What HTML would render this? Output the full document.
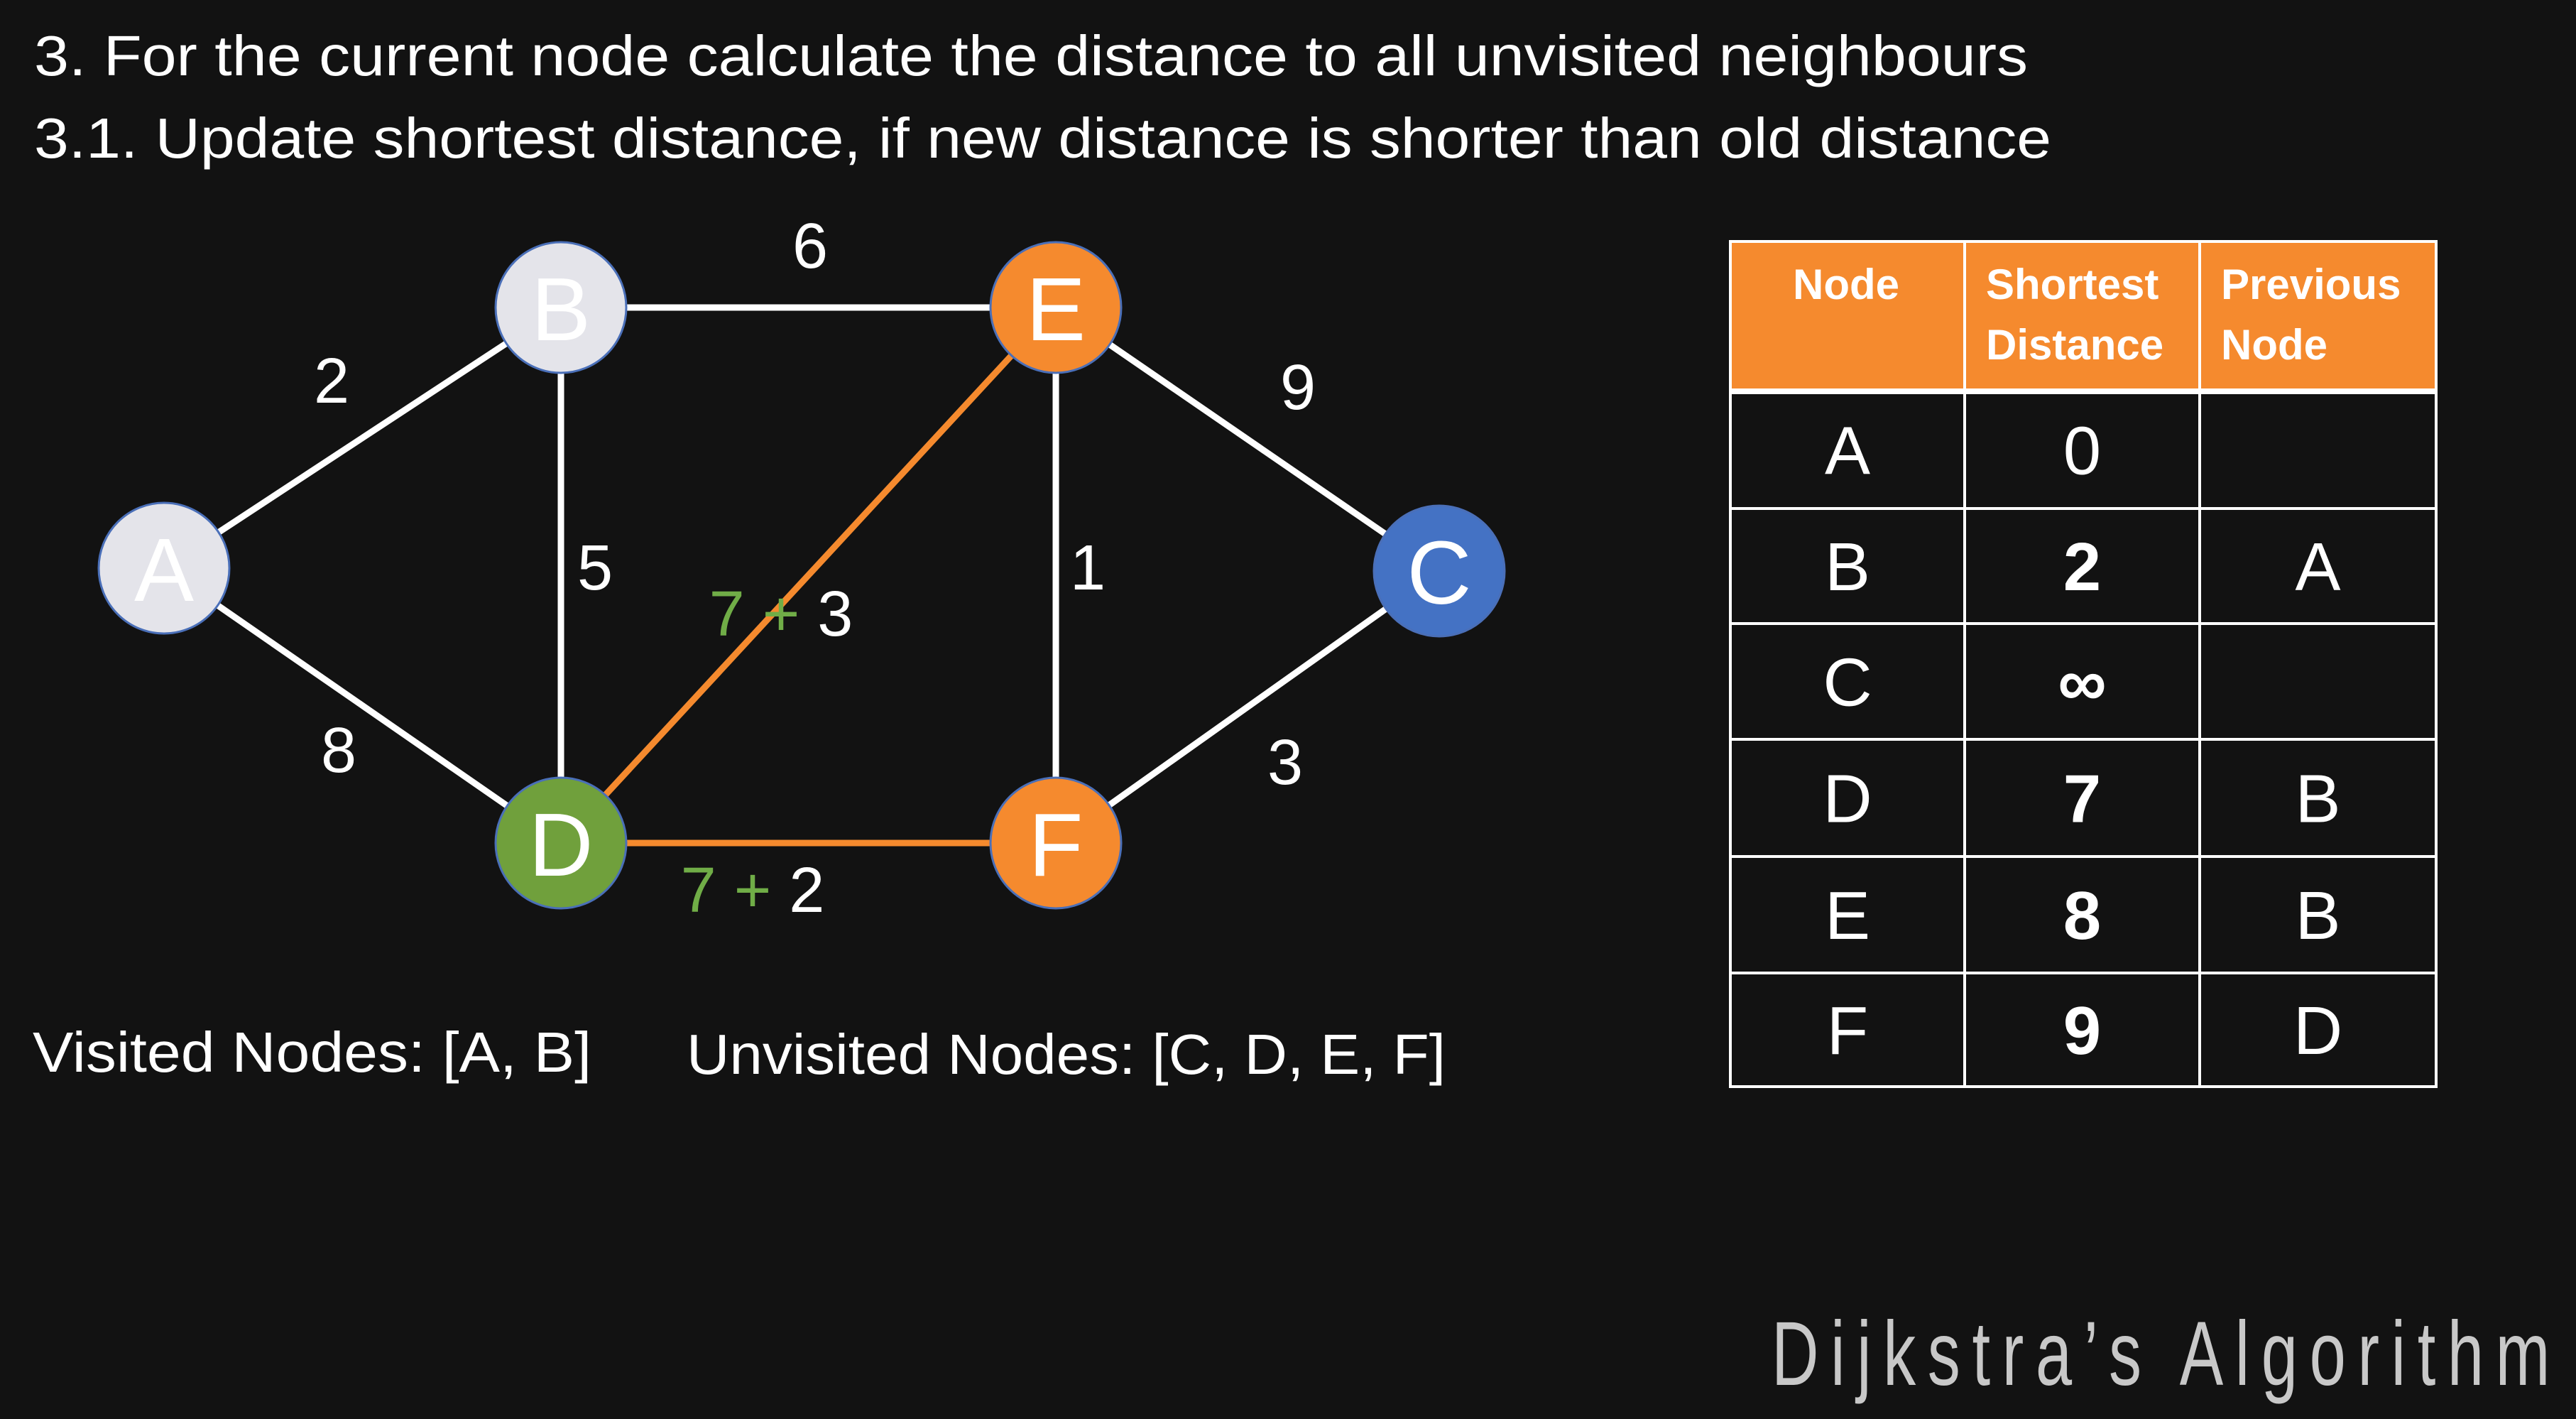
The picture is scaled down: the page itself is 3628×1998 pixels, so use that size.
<!DOCTYPE html>
<html><head><meta charset="utf-8"><style>
html,body{margin:0;padding:0;background:#121212;}
svg{display:block;}
text{font-family:"Liberation Sans",sans-serif;}
</style></head><body>
<svg id="chart" width="3628" height="1998" viewBox="0 0 3628 1998" xmlns="http://www.w3.org/2000/svg">
<rect width="3628" height="1998" fill="#121212"/>
<text x="48" y="106" font-size="80" fill="#ffffff" textLength="2808" lengthAdjust="spacingAndGlyphs">3. For the current node calculate the distance to all unvisited neighbours</text>
<text x="48" y="222" font-size="80" fill="#ffffff" textLength="2841" lengthAdjust="spacingAndGlyphs">3.1. Update shortest distance, if new distance is shorter than old distance</text>
<g id="edges"></g><g id="edgeLabels"></g><g id="nodes"></g><g id="table"></g>
<text x="46" y="1509" font-size="80" fill="#ffffff" textLength="787" lengthAdjust="spacingAndGlyphs">Visited Nodes: [A, B]</text>
<text x="967" y="1512" font-size="80" fill="#ffffff" textLength="1069" lengthAdjust="spacingAndGlyphs">Unvisited Nodes: [C, D, E, F]</text>
<text transform="translate(2495,1950) scale(0.72,1)" x="0" y="0" font-size="128" letter-spacing="23" fill="#c8c8c8">Dijkstra’s Algorithm</text>
</svg>
<script>
const nodeNames=["A","B","C","D","E","F"];
const nodeX=[231,790,2027,790,1487,1487];
const nodeY=[800,433,804,1187,433,1187];
const nodeFill=["#e4e4ea","#e4e4ea","#4472c4","#70a03c","#f58a2e","#f58a2e"];
const edgeFrom=["A","A","B","B","D","D","E","E","F"];
const edgeTo=["B","D","E","D","E","F","F","C","C"];
const edgeWeights=["2","8","6","5","3","2","1","9","3"];
const edgeColor=["#fff","#fff","#fff","#fff","#f58a2e","#f58a2e","#fff","#fff","#fff"];
const labelX=[467,477,1141,838,1100,1060,1532,1828,1810];
const labelY=[567,1087,377,830,895,1284,830,576,1104];
const edgeAddend=["","","","","7","7","","",""];
const tableHeaders=["Node","Shortest|Distance","Previous|Node"];
const tableNodes=["A","B","C","D","E","F"];
const tableDist=["0","2","∞","7","8","9"];
const tablePrev=["","A","","B","B","D"];
const NS="http://www.w3.org/2000/svg";
function mk(tag,attrs,parent){const e=document.createElementNS(NS,tag);for(const k in attrs)e.setAttribute(k,attrs[k]);parent.appendChild(e);return e;}
const gE=document.getElementById("edges"),gL=document.getElementById("edgeLabels"),gN=document.getElementById("nodes"),gT=document.getElementById("table");
edgeFrom.forEach((f,i)=>{const a=nodeNames.indexOf(f),b=nodeNames.indexOf(edgeTo[i]);
 const l=mk("line",{x1:nodeX[a],y1:nodeY[a],x2:nodeX[b],y2:nodeY[b],stroke:edgeColor[i],"stroke-width":9},gE);
 
 
 const t=mk("text",{x:labelX[i],y:labelY[i],"font-size":90,fill:"#fff","text-anchor":"middle"},gL);
 
 
 if(edgeAddend[i]){const s=mk("tspan",{fill:"#70ad47"},t);s.textContent=edgeAddend[i]+" + ";const s2=mk("tspan",{},t);s2.textContent=edgeWeights[i];}
 else t.textContent=edgeWeights[i];
});
nodeNames.forEach((n,i)=>{const g=mk("g",{},gN);
 
 
 mk("circle",{cx:nodeX[i],cy:nodeY[i],r:92,fill:nodeFill[i],stroke:"#4a6fb8","stroke-width":3},g);
 const t=mk("text",{x:nodeX[i],y:nodeY[i]+46,"font-size":126,fill:"#fff","text-anchor":"middle"},g);t.textContent=n;});
const colX=[2437,2767,3098,3431];
const rowY=[340,551,716,878,1041,1206,1370,1530];
mk("rect",{x:colX[0],y:rowY[0],width:colX[3]-colX[0],height:rowY[1]-rowY[0],fill:"#f58a2e"},gT);
tableHeaders.forEach((h,c)=>{h.split("|").forEach((ln,k)=>{const t=mk("text",{x:colX[c]+(c==0?88:30),y:421+k*85,"font-size":60,"font-weight":"bold",fill:"#fff"},gT);t.textContent=ln;
 
 });});
const cols=[tableNodes,tableDist,tablePrev];
tableNodes.forEach((n,r)=>{cols.forEach((col,c)=>{if(!col[r])return;
 const t=mk("text",{x:(colX[c]+colX[c+1])/2,y:(rowY[r+1]+rowY[r+2])/2+34,"font-size":96,fill:"#fff","text-anchor":"middle","font-weight":(c==1&&r>0)?"bold":"normal"},gT);t.textContent=col[r];
 
 });});
rowY.forEach((y,i)=>{if(i==0)return;mk("line",{x1:colX[0],x2:colX[3],y1:y,y2:y,stroke:"#fff","stroke-width":i==1?8:4},gT);});
mk("rect",{x:colX[0],y:rowY[0],width:colX[3]-colX[0],height:rowY[7]-rowY[0],fill:"none",stroke:"#fff","stroke-width":4},gT);
colX.slice(1,3).forEach(x=>mk("line",{x1:x,x2:x,y1:rowY[0],y2:rowY[7],stroke:"#fff","stroke-width":4},gT));
</script>
</body></html>
